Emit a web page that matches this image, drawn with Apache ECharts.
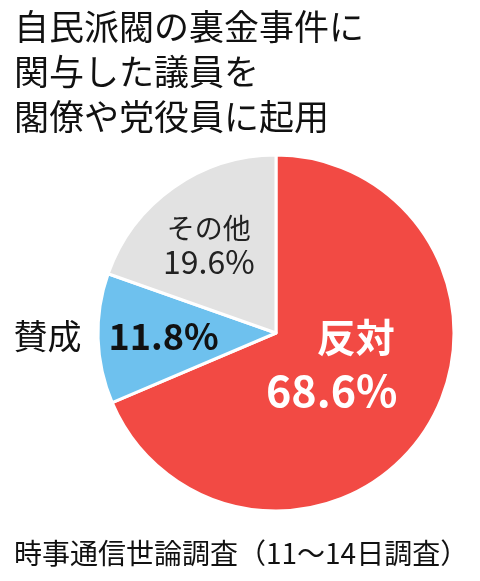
<!DOCTYPE html>
<html>
<head>
<meta charset="utf-8">
<script src="https://cdn.jsdelivr.net/npm/echarts@6/dist/echarts.min.js"></script>
<style>
  html, body { margin: 0; padding: 0; background: #fff; }
  #chart { width: 480px; height: 581px; }
</style>
</head>
<body>
<div id="chart"></div>
<script>
const titleLines = ['自民派閥の裏金事件に', '関与した議員を', '閣僚や党役員に起用'];
const sourceText = '時事通信世論調査（11～14日調査）';
const names = ['反対', '賛成', 'その他'];
const values = [68.6, 11.8, 19.6];
const colors = ['#f24a44', '#6ec1ee', '#e2e2e2'];

const FONT = '"Noto Sans CJK JP", "Noto Sans", sans-serif';

// label nudges (px) from the default inside spot
const labelShift = [[-21, -20], [-68, 0], [-14, -13]];

const chart = echarts.init(document.getElementById('chart'));

const labelFor = [
  { formatter: p => '{n|' + p.name + '}\n{v|' + p.value.toFixed(1) + '%}',
    rich: {
      n: { color: '#fff', fontSize: 39, fontWeight: 'bold', fontFamily: FONT, lineHeight: 54, padding: [0, 0, 0, 48] },
      v: { color: '#fff', fontSize: 43, fontWeight: 'bold', fontFamily: FONT, lineHeight: 54 }
    } },
  { formatter: p => '{n|' + p.name + '}{v|' + p.value.toFixed(1) + '%}',
    rich: {
      n: { color: '#111', fontSize: 34, fontFamily: FONT, padding: [0, 27, 0, 0] },
      v: { color: '#111', fontSize: 36, fontWeight: 'bold', fontFamily: FONT }
    } },
  { formatter: p => '{n|' + p.name + '}\n{v|' + p.value.toFixed(1) + '%}',
    rich: {
      n: { color: '#222', fontSize: 28, fontFamily: FONT, lineHeight: 34 },
      v: { color: '#222', fontSize: 32, fontFamily: FONT, lineHeight: 34 }
    } }
];

const data = names.map((n, i) => ({
  name: n,
  value: values[i],
  itemStyle: { color: colors[i] },
  label: labelFor[i]
}));

chart.setOption({
  animation: false,
  backgroundColor: '#fff',
  graphic: [
    {
      type: 'text', left: 14, top: 4,
      style: { text: titleLines.join('\n'), font: '35px ' + FONT, lineHeight: 45, fill: '#111' }
    },
    {
      type: 'text', left: 14, top: 539,
      style: { text: sourceText, font: '28px ' + FONT, fill: '#111' }
    }
  ],
  series: [{
    type: 'pie',
    center: [276, 333],
    radius: [0, 178],
    startAngle: 90,
    clockwise: true,
    silent: true,
    itemStyle: { borderColor: '#fff', borderWidth: 3 },
    label: { show: true, position: 'inside', align: 'center' },
    labelLine: { show: false },
    labelLayout: p => ({ dx: labelShift[p.dataIndex][0], dy: labelShift[p.dataIndex][1] }),
    data: data
  }]
});
</script>
</body>
</html>
